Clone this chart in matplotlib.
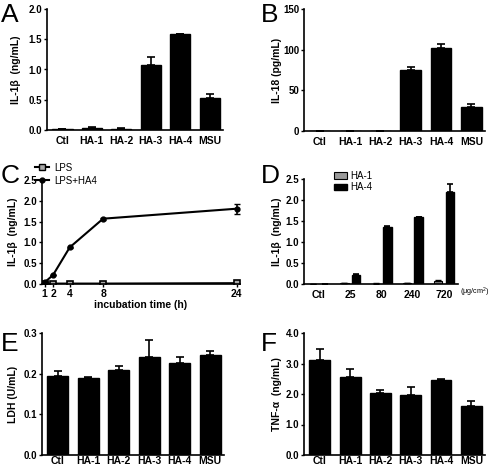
import numpy as np
import matplotlib
matplotlib.use("Agg")
import matplotlib.pyplot as plt
from matplotlib.patches import Patch
from matplotlib.lines import Line2D

plt.rcParams['font.family'] = ['Liberation Sans', 'DejaVu Sans']
plt.rcParams['mathtext.fontset'] = 'custom'
plt.rcParams['mathtext.rm'] = 'Liberation Sans'

## data
groups = ["Ctl", "HA-1", "HA-2", "HA-3", "HA-4", "MSU"]

il1b = [0.01, 0.04, 0.02, 1.07, 1.58, 0.53]
il1b_err = [0.005, 0.005, 0.005, 0.13, 0.015, 0.06]

il18 = [0, 0, 0, 75, 101.5, 29]
il18_err = [0, 0, 0, 4, 5, 4.5]

hours = [1, 2, 4, 8, 24]
lps = [0.0, 0.01, 0.01, 0.01, 0.02]
lps_err = [0.005, 0.005, 0.005, 0.005, 0.01]
lps_ha4 = [0.04, 0.215, 0.88, 1.57, 1.81]
lps_ha4_err = [0.01, 0.01, 0.02, 0.02, 0.12]

doses = ["Ctl", "25", "80", "240", "720"]
dose_ha1 = [0.0, 0.02, 0.01, 0.02, 0.08]
dose_ha1_err = [0, 0.005, 0.005, 0.005, 0.01]
dose_ha4 = [0.0, 0.22, 1.36, 1.59, 2.19]
dose_ha4_err = [0, 0.01, 0.03, 0.01, 0.19]

ldh = [0.194, 0.189, 0.209, 0.241, 0.227, 0.247]
ldh_err = [0.012, 0.003, 0.011, 0.043, 0.015, 0.009]

tnfa = [3.11, 2.57, 2.03, 1.97, 2.45, 1.60]
tnfa_err = [0.35, 0.26, 0.10, 0.26, 0.03, 0.17]

W, H = 490, 468
fig = plt.figure(figsize=(W / 100, H / 100), dpi=100)


def add_axes(left, right, top, bottom):
	return fig.add_axes([left / W, 1 - bottom / H, (right - left) / W, (bottom - top) / H])


def style(ax, xpad=4):
	for s in ["top", "right"]:
		ax.spines[s].set_visible(False)
	for s in ["left", "bottom"]:
		ax.spines[s].set_linewidth(1.2)
	ax.tick_params(
		axis="y",
		length=2.5,
		width=1.0,
		pad=1,
		labelsize=7)
	ax.tick_params(
		axis="x",
		length=0,
		pad=xpad,
		labelsize=7.5)
	for lab in ax.get_xticklabels() + ax.get_yticklabels():
		lab.set_fontweight("bold")


def bar_panel(ax, vals, errs, ylim, yticks, fmt, ylabel, xpad=4):
	x = np.arange(len(groups))
	ax.bar(
		x,
		vals,
		width=0.69,
		color="black",
		edgecolor="black")
	ax.errorbar(
		x,
		vals,
		yerr=[np.zeros(len(errs)), errs],
		fmt="none",
		ecolor="black",
		elinewidth=1.2,
		capsize=3,
		capthick=1.2)
	ax.set_xlim(-0.52, 5.45)
	ax.set_ylim(*ylim)
	ax.set_yticks(yticks)
	ax.set_yticklabels([fmt.format(t) for t in yticks])
	ax.set_xticks(x)
	ax.set_xticklabels(groups)
	ax.set_ylabel(
		ylabel,
		fontsize=7.5,
		fontweight="bold")
	style(ax, xpad)


## A
axA = add_axes(47, 223, 9, 130)
bar_panel(axA, il1b, il1b_err, (0, 2.0), [0, 0.5, 1.0, 1.5, 2.0], "{:.1f}", "IL-1β  (ng/mL)")
axA.yaxis.set_label_coords(-0.15, 0.5)

## B
axB = add_axes(304, 485, 9, 131)
bar_panel(axB, il18, il18_err, (0, 150), [0, 50, 100, 150], "{:.0f}", "IL-18 (pg/mL)")
axB.yaxis.set_label_coords(-0.12, 0.5)

## C
axC = add_axes(42, 240, 180, 284)
axC.errorbar(
	hours,
	lps,
	yerr=lps_err,
	color="black",
	linewidth=1.5,
	marker="s",
	markersize=4.5,
	markerfacecolor="#aaaaaa",
	markeredgecolor="black",
	markeredgewidth=1.2,
	capsize=2)
axC.errorbar(
	hours,
	lps_ha4,
	yerr=lps_ha4_err,
	color="black",
	linewidth=1.5,
	marker="o",
	markersize=3.5,
	capsize=2.5,
	elinewidth=1.2)
axC.set_xlim(0.68, 24.4)
axC.set_ylim(0, 2.5)
axC.set_yticks([0, 0.5, 1.0, 1.5, 2.0, 2.5])
axC.set_yticklabels(["0.0", "0.5", "1.0", "1.5", "2.0", "2.5"])
axC.set_xticks(hours)
axC.set_xlabel(
	"incubation time (h)",
	fontsize=7.5,
	fontweight="bold",
	labelpad=1)
axC.set_ylabel(
	"IL-1β  (ng/mL)",
	fontsize=7.5,
	fontweight="bold")
style(axC)
axC.tick_params(axis="x", length=2, width=1.0, pad=1.5)
axC.yaxis.set_label_coords(-0.12, 0.5)
c_handles = [
	Line2D([], [], color="black", linewidth=1.5, marker="s", markersize=4.5,
		markerfacecolor="#aaaaaa", markeredgecolor="black"),
	Line2D([], [], color="black", linewidth=1.5, marker="o", markersize=3.5),
]
axC.legend(
	c_handles,
	["LPS", "LPS+HA4"],
	loc="upper left",
	bbox_to_anchor=(30 / W, 1 - 158 / H),
	bbox_transform=fig.transFigure,
	frameon=False,
	fontsize=7,
	handlelength=1.5,
	handletextpad=0.5,
	labelspacing=0.3,
	borderpad=0)

## D
axD = add_axes(304, 458, 179, 284)
xd = np.arange(len(doses))
axD.bar(
	xd - 0.19,
	dose_ha1,
	width=0.27,
	color="#999999",
	edgecolor="black",
	linewidth=0.8)
axD.bar(
	xd + 0.19,
	dose_ha4,
	width=0.27,
	color="black",
	edgecolor="black")
axD.errorbar(
	xd - 0.19,
	dose_ha1,
	yerr=[np.zeros(5), dose_ha1_err],
	fmt="none",
	ecolor="black",
	elinewidth=1.0,
	capsize=2)
axD.errorbar(
	xd + 0.19,
	dose_ha4,
	yerr=[np.zeros(5), dose_ha4_err],
	fmt="none",
	ecolor="black",
	elinewidth=1.2,
	capsize=2.5,
	capthick=1.2)
axD.set_xlim(-0.48, 4.45)
axD.set_ylim(0, 2.5)
axD.set_yticks([0, 0.5, 1.0, 1.5, 2.0, 2.5])
axD.set_yticklabels(["0.0", "0.5", "1.0", "1.5", "2.0", "2.5"])
axD.set_xticks(xd)
axD.set_xticklabels(doses)
axD.set_ylabel(
	"IL-1β  (ng/mL)",
	fontsize=7.5,
	fontweight="bold")
style(axD)
axD.yaxis.set_label_coords(-0.145, 0.5)
axD.text(
	1.015,
	-8.7 / 105,
	"(μg/cm$^2$)",
	transform=axD.transAxes,
	fontsize=5.2,
	ha="left",
	va="center")
d_handles = [
	Patch(facecolor="#999999", edgecolor="black", linewidth=0.8),
	Patch(facecolor="black", edgecolor="black"),
]
axD.legend(
	d_handles,
	["HA-1", "HA-4"],
	loc="upper left",
	bbox_to_anchor=(329 / W, 1 - 166 / H),
	bbox_transform=fig.transFigure,
	frameon=False,
	fontsize=7,
	handlelength=1.3,
	handleheight=0.6,
	handletextpad=0.4,
	labelspacing=0.15,
	borderpad=0)

## E
axE = add_axes(42, 224, 333, 455)
bar_panel(axE, ldh, ldh_err, (0, 0.3), [0, 0.1, 0.2, 0.3], "{:.1f}", "LDH (U/mL)", xpad=1)
axE.yaxis.set_label_coords(-0.13, 0.5)

## F
axF = add_axes(304, 485, 333, 455)
bar_panel(axF, tnfa, tnfa_err, (0, 4.0), [0, 1.0, 2.0, 3.0, 4.0], "{:.1f}", "TNF-α  (ng/mL)", xpad=1)
axF.yaxis.set_label_coords(-0.12, 0.5)

## panel letters
for letter, (px, py) in zip("ABCDEF", [(1, 3), (261, 3), (1, 164), (261, 164), (1, 332), (261, 332)]):
	fig.text(
		px / W,
		1 - py / H,
		letter,
		fontsize=19,
		ha="left",
		va="top")

fig.savefig("out.png", dpi=100)
plt.close()
